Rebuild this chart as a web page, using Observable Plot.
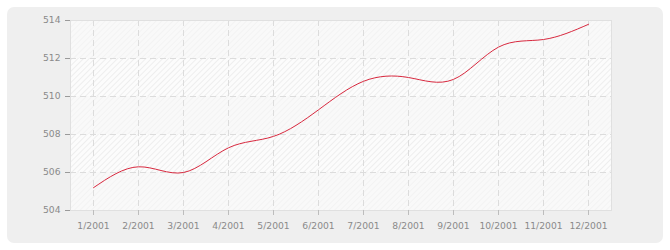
<!DOCTYPE html>
<html>
<head>
<meta charset="utf-8">
<script src="https://cdn.jsdelivr.net/npm/d3@7"></script>
<script src="https://cdn.jsdelivr.net/npm/@observablehq/plot@0.6"></script>
<style>
  html, body { margin: 0; padding: 0; background: #ffffff; }
  #wrap { position: relative; width: 670px; height: 250px; overflow: hidden; }
  #panel { position: absolute; left: 7px; top: 7px; width: 656px; height: 236px; background: #efefef; border-radius: 7px; }
  #chart { position: absolute; left: 0; top: 0; }
  #chart svg { display: block; }
</style>
</head>
<body>
<svg width="0" height="0" style="position:absolute">
  <defs>
    <pattern id="hatchLight" width="4" height="4" patternUnits="userSpaceOnUse" patternTransform="rotate(45)">
      <rect width="4" height="4" fill="#f9f9f9"></rect>
      <line x1="0" y1="0" x2="0" y2="4" stroke="#f1f1f1" stroke-width="1.5"></line>
    </pattern>
    <pattern id="hatchDark" width="4" height="4" patternUnits="userSpaceOnUse" patternTransform="rotate(45)">
      <rect width="4" height="4" fill="#fcfcfc"></rect>
      <line x1="0" y1="0" x2="0" y2="4" stroke="#eaeaea" stroke-width="1.5"></line>
    </pattern>
  </defs>
</svg>
<div id="wrap">
  <div id="panel"></div>
  <div id="chart"></div>
</div>
<script>
const months = ["1/2001","2/2001","3/2001","4/2001","5/2001","6/2001","7/2001","8/2001","9/2001","10/2001","11/2001","12/2001"];
const values = [505.2, 506.3, 506.0, 507.3, 507.9, 509.3, 510.8, 511.0, 510.9, 512.6, 513.0, 513.8];
const yTicks = [504, 506, 508, 510, 512, 514];

const data = months.map((m, i) => ({month: m, value: values[i]}));
const bands = [];
for (let i = 1; i < yTicks.length - 1; i += 2) bands.push({y1: yTicks[i], y2: yTicks[i + 1]});

const chart = Plot.plot({
  width: 670,
  height: 250,
  marginLeft: 70,
  marginRight: 59,
  marginTop: 20,
  marginBottom: 40,
  style: {background: "transparent", fontFamily: "DejaVu Sans", fontSize: "9.2px", color: "#8e8e8e"},
  x: {type: "point", domain: months, padding: 0.5, label: null},
  y: {domain: [yTicks[0], yTicks[yTicks.length - 1]], label: null},
  marks: [
    Plot.frame({fill: "url(#hatchLight)", stroke: null}),
    Plot.rectY(bands, {y1: "y1", y2: "y2", fill: "url(#hatchDark)"}),
    Plot.ruleY(yTicks.slice(1, -1), {stroke: "#dcdcdc", strokeDasharray: "6,4"}),
    Plot.ruleX(months, {stroke: "#dcdcdc", strokeDasharray: "6,4"}),
    Plot.frame({stroke: "#e0e0e0", strokeWidth: 1}),
    Plot.axisY({ticks: yTicks, tickSize: 5, tickPadding: 5, stroke: "#9a9a9a", fill: "#8a8a8a", label: null}),
    Plot.axisX({tickSize: 5, tickPadding: 7, stroke: "#bdbdbd", fill: "#8a8a8a", label: null}),
    Plot.line(data, {x: "month", y: "value", curve: "natural", stroke: "#d8283e", strokeWidth: 1})
  ]
});
document.getElementById("chart").appendChild(chart);
</script>
</body>
</html>
